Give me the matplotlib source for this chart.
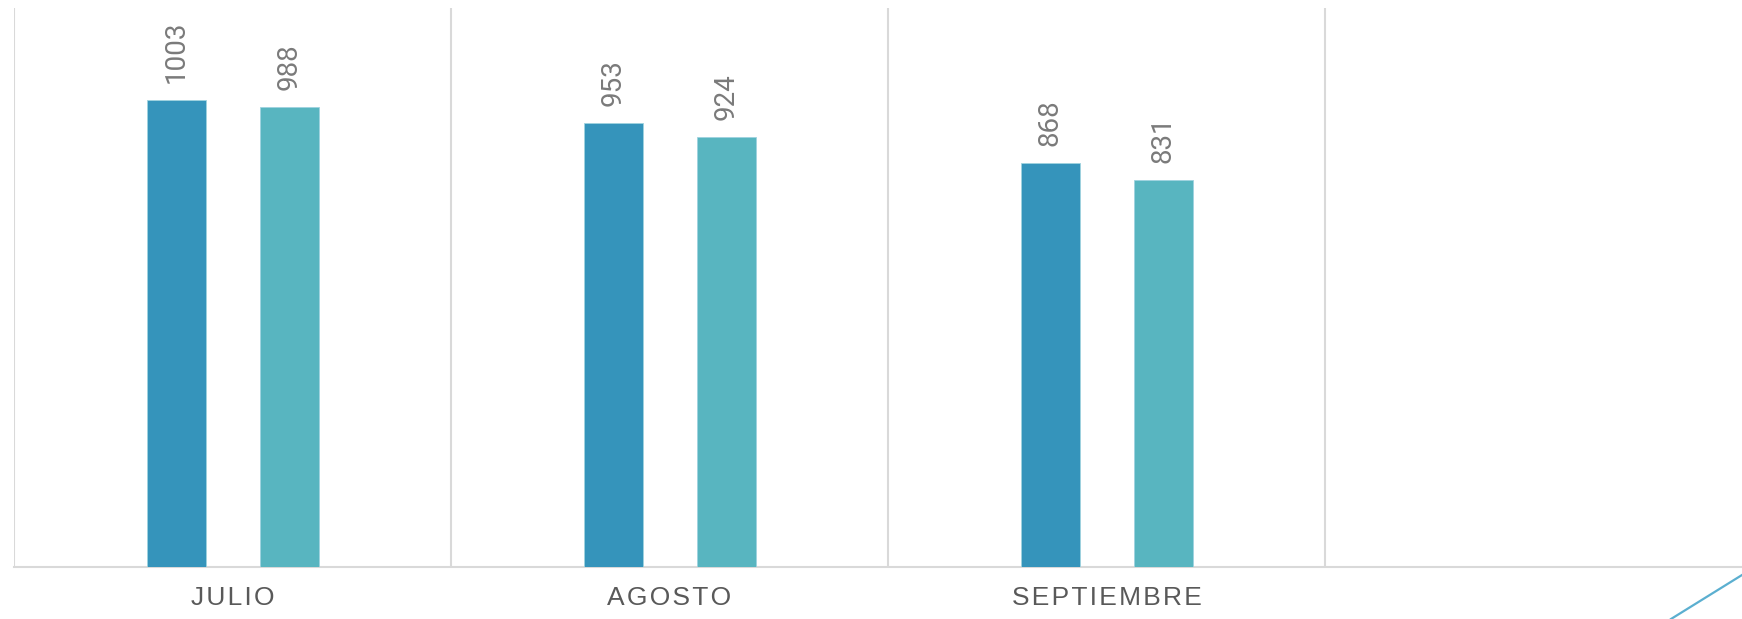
import matplotlib
matplotlib.use("Agg")
import matplotlib.pyplot as plt
from matplotlib.lines import Line2D
import numpy as np

categories = ["JULIO", "AGOSTO", "SEPTIEMBRE", ""]
series_a = [1003, 953, 868, None]
series_b = [988, 924, 831, None]

HAIR = "\u200a"
def spaced(s):
    return HAIR.join(s)

W, H = 1742, 619
fig = plt.figure(figsize=(W / 100, H / 100), dpi=100)
ax = fig.add_axes([14 / W, (H - 567) / H, (W - 14) / W, (567 - 8) / H])

cat_px = 437.0
x = np.arange(len(categories))
bw = 59 / cat_px
off = 56.5 / cat_px
c1 = "#3594BB"
c2 = "#58B5C0"

for i in range(len(categories)):
    for val, dx, col in ((series_a[i], -off, c1), (series_b[i], off, c2)):
        if val is None:
            continue
        ax.bar(x[i] + dx, val, width=bw, color=col, edgecolor="#9fd3df",
               linewidth=0.6, zorder=3)
        ax.annotate(str(val), (x[i] + dx, val), xytext=(0, 12),
                    textcoords="offset points", rotation=90, ha="center",
                    va="bottom", color="#7a7a7a", fontsize=20,
                    family=["Roboto", "DejaVu Sans"])

ax.set_xlim(-0.5, -0.5 + (W - 14) / cat_px)
ax.set_ylim(0, 1200)
for b in np.arange(-0.5, len(categories), 1.0):
    ax.axvline(b, color="#d9d9d9", linewidth=1.5, zorder=1)

for s in ["top", "right", "left"]:
    ax.spines[s].set_visible(False)
ax.spines["bottom"].set_color("#d9d9d9")
ax.spines["bottom"].set_linewidth(1.5)
ax.set_yticks([])
ax.set_xticks(x)
ax.set_xticklabels([spaced(c) for c in categories], fontsize=19, color="#595959",
                   family=["Liberation Sans", "DejaVu Sans"])
ax.tick_params(axis="x", length=0, pad=14)

fig.add_artist(Line2D([1671 / W, 1.0 + 30 / W], [0.0, (H - 575) / H + (30 * 44 / 71) / H],
                      transform=fig.transFigure, color="#5BAFD0", linewidth=1.6))

fig.savefig("out.png", dpi=100)
